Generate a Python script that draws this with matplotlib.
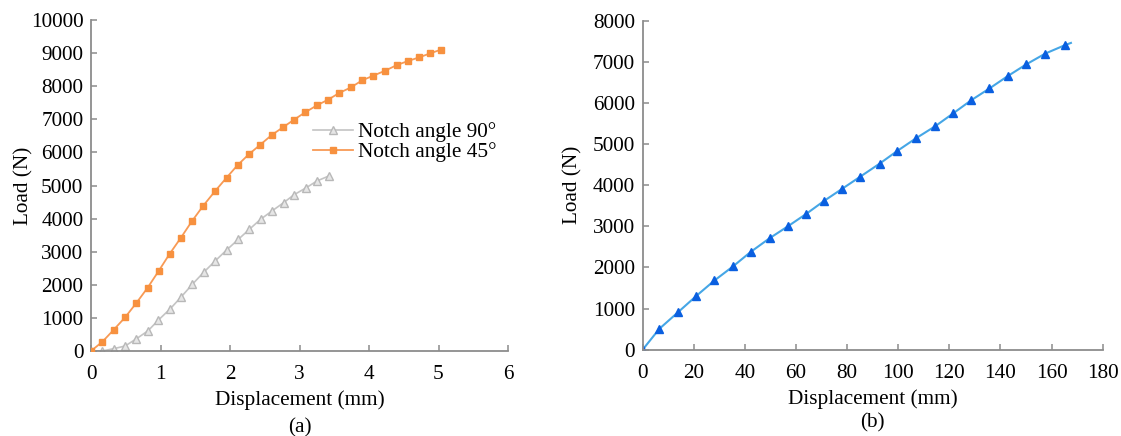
import matplotlib
matplotlib.use("Agg")
import matplotlib.pyplot as plt
from matplotlib.ticker import MultipleLocator

plt.rcParams['font.family'] = ['Liberation Serif', 'DejaVu Serif']
plt.rcParams['font.size'] = 15

# (a) notched specimens
disp_45 = [0, 0.164, 0.327, 0.49, 0.654, 0.813, 0.971, 1.13, 1.29, 1.45, 1.61,
           1.786, 1.95, 2.11, 2.27, 2.43, 2.60, 2.76, 2.92, 3.08, 3.25, 3.41,
           3.57, 3.74, 3.90, 4.06, 4.23, 4.40, 4.56, 4.72, 4.88, 5.03]
load_45 = [0, 280, 642, 1015, 1455, 1907, 2410, 2931, 3413, 3916, 4377,
           4834, 5236, 5619, 5942, 6224, 6526, 6757, 6988, 7210, 7422, 7593,
           7795, 7966, 8177, 8318, 8468, 8640, 8761, 8872, 8993, 9103]
disp_90 = [0, 0.164, 0.327, 0.49, 0.654, 0.82, 0.97, 1.14, 1.30, 1.46, 1.62,
           1.786, 1.95, 2.12, 2.28, 2.44, 2.61, 2.77, 2.92, 3.09, 3.25, 3.42]
load_90 = [0, 0, 70, 150, 370, 610, 935, 1275, 1640, 2020, 2375,
           2720, 3050, 3375, 3680, 3980, 4240, 4480, 4720, 4925, 5136, 5287]

# (b) unnotched specimen
disp_b = [0, 6.5, 14.0, 21.0, 28.1, 35.3, 42.3, 49.7, 56.9, 64.0, 71.1,
          78.1, 85.2, 92.8, 99.5, 107.0, 114.5, 121.6, 128.6, 135.7, 142.8,
          150.2, 157.6, 165.2, 167.6]
load_b = [0, 506, 920, 1309, 1684, 2024, 2380, 2713, 3005, 3304, 3625,
          3916, 4212, 4530, 4830, 5146, 5438, 5754, 6071, 6356, 6655,
          6946, 7207, 7409, 7465]

AXIS_GREY = '#8c8c8c'
FS = 15.3


def style_axes(ax, ylabelpad):
    for side in ('top', 'right'):
        ax.spines[side].set_visible(False)
    for side in ('left', 'bottom'):
        ax.spines[side].set_color(AXIS_GREY)
        ax.spines[side].set_linewidth(1.3)
    ax.tick_params(direction='in', length=4, width=1.1, color=AXIS_GREY,
                   labelsize=FS)
    ax.tick_params(axis='x', pad=10)
    ax.tick_params(axis='y', pad=5.5)
    ax.set_xlabel('Displacement (mm)', fontsize=FS, labelpad=4.7)
    ax.set_ylabel('Load (N)', fontsize=FS, labelpad=ylabelpad)


fig = plt.figure(figsize=(11.21, 4.36), dpi=100)

ax1 = fig.add_axes([0.0812, 0.195, 0.372, 0.759])
ax1.plot(disp_90, load_90, color='#c4c4c4', lw=1.2, marker='^', ms=5.5,
         mfc='#e6e6e6', mec='#b8b8b8', mew=1.0, label='Notch angle 90°')
ax1.plot(disp_45, load_45, color='#f89a55', lw=1.3, marker='s', ms=5,
         mfc='#f7913f', mec='#f7913f', label='Notch angle 45°', zorder=3)
ax1.set_xlim(0, 6)
ax1.set_ylim(0, 10000)
ax1.xaxis.set_major_locator(MultipleLocator(1))
ax1.yaxis.set_major_locator(MultipleLocator(1000))
style_axes(ax1, -1.8)
ax1.legend(loc='upper left', bbox_to_anchor=(0.508, 0.723), frameon=False,
           fontsize=FS, handlelength=1.85, handletextpad=0.23,
           labelspacing=0.0, borderpad=0)
ax1.text(0.5, -0.233, '(a)', transform=ax1.transAxes, ha='center',
         va='center', fontsize=FS)

ax2 = fig.add_axes([0.5733, 0.198, 0.4103, 0.754])
ax2.plot(disp_b, load_b, color='#45a6e6', lw=1.5, marker='^', ms=6,
         mfc='#0a5fe0', mec='#0a5fe0', markevery=list(range(len(disp_b) - 1)))
ax2.set_xlim(0, 180)
ax2.set_ylim(0, 8000)
ax2.xaxis.set_major_locator(MultipleLocator(20))
ax2.yaxis.set_major_locator(MultipleLocator(1000))
style_axes(ax2, 7.6)
ax2.text(0.5, -0.224, '(b)', transform=ax2.transAxes, ha='center',
         va='center', fontsize=FS)

fig.savefig('out.png', dpi=100)
